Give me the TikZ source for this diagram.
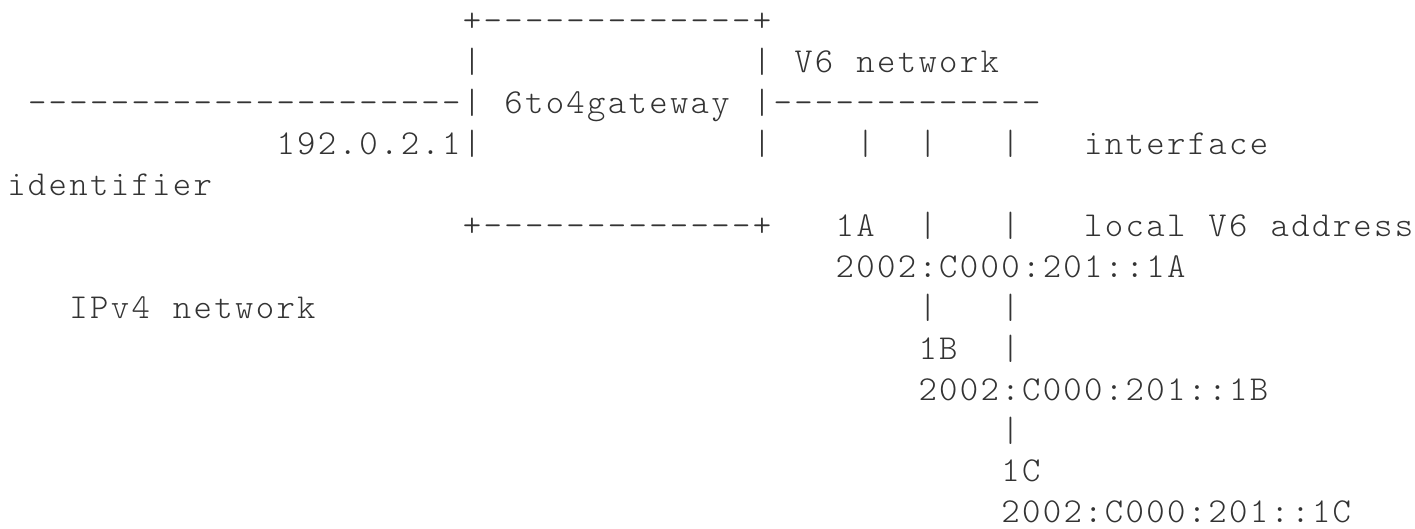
\documentclass[tikz,border=0pt]{standalone}
\usepackage{fontspec}
\newfontfamily\asciimono{Latin Modern Mono Light}[LetterSpace=6.67]
\definecolor{ink}{RGB}{51,51,51}
\tikzset{asc/.style={anchor=base west, inner sep=0pt, outer sep=0pt, text=ink,
  font=\asciimono\fontsize{35}{41}\selectfont}}
% column c, row r -> position
\newcommand{\cl}[1]{7.3+#1*20.71}
\newcommand{\rw}[1]{32+#1*40.9}
\begin{document}
\begin{tikzpicture}[x=1pt,y=-1pt]
\useasboundingbox (0,0) rectangle (1415,529);
% row 0
\node[asc] (boxtop) at ({\cl{22}},{\rw{0}}) {+-------------+};
% row 1
\node[asc] (boxl1) at ({\cl{22}},{\rw{1}}) {|};
\node[asc] (boxr1) at ({\cl{36}},{\rw{1}}) {|};
\node[asc] (v6a) at ({\cl{38}},{\rw{1}}) {V6};
\node[asc] (v6b) at ({\cl{41}},{\rw{1}}) {network};
% row 2
\node[asc] (v4line) at ({\cl{1}},{\rw{2}}) {---------------------|};
\node[asc] (gw) at ({\cl{24}},{\rw{2}}) {6to4gateway};
\node[asc] (v6line) at ({\cl{36}},{\rw{2}}) {|-------------};
% row 3
\node[asc] (v4addr) at ({\cl{13}},{\rw{3}}) {192.0.2.1|};
\node[asc] (boxr3) at ({\cl{36}},{\rw{3}}) {|};
\node[asc] (drop1) at ({\cl{41}},{\rw{3}}) {|};
\node[asc] (drop2) at ({\cl{44}},{\rw{3}}) {|};
\node[asc] (drop3) at ({\cl{48}},{\rw{3}}) {|};
\node[asc] (iface) at ({\cl{52}},{\rw{3}}) {interface};
% row 4
\node[asc] (ident) at ({\cl{0}},{\rw{4}}) {identifier};
% row 5
\node[asc] (boxbot) at ({\cl{22}},{\rw{5}}) {+-------------+};
\node[asc] (h1a) at ({\cl{40}},{\rw{5}}) {1A};
\node[asc] (drop2b) at ({\cl{44}},{\rw{5}}) {|};
\node[asc] (drop3b) at ({\cl{48}},{\rw{5}}) {|};
\node[asc] (loca) at ({\cl{52}},{\rw{5}}) {local};
\node[asc] (locb) at ({\cl{58}},{\rw{5}}) {V6};
\node[asc] (locc) at ({\cl{61}},{\rw{5}}) {address};
% row 6
\node[asc] (a1a) at ({\cl{40}},{\rw{6}}) {2002:C000:201::1A};
% row 7
\node[asc] (v4a) at ({\cl{3}},{\rw{7}}) {IPv4};
\node[asc] (v4b) at ({\cl{8}},{\rw{7}}) {network};
\node[asc] (drop2c) at ({\cl{44}},{\rw{7}}) {|};
\node[asc] (drop3c) at ({\cl{48}},{\rw{7}}) {|};
% row 8
\node[asc] (h1b) at ({\cl{44}},{\rw{8}}) {1B};
\node[asc] (drop3d) at ({\cl{48}},{\rw{8}}) {|};
% row 9
\node[asc] (a1b) at ({\cl{44}},{\rw{9}}) {2002:C000:201::1B};
% row 10
\node[asc] (drop3e) at ({\cl{48}},{\rw{10}}) {|};
% row 11
\node[asc] (h1c) at ({\cl{48}},{\rw{11}}) {1C};
% row 12
\node[asc] (a1c) at ({\cl{48}},{\rw{12}}) {2002:C000:201::1C};
\end{tikzpicture}
\end{document}
